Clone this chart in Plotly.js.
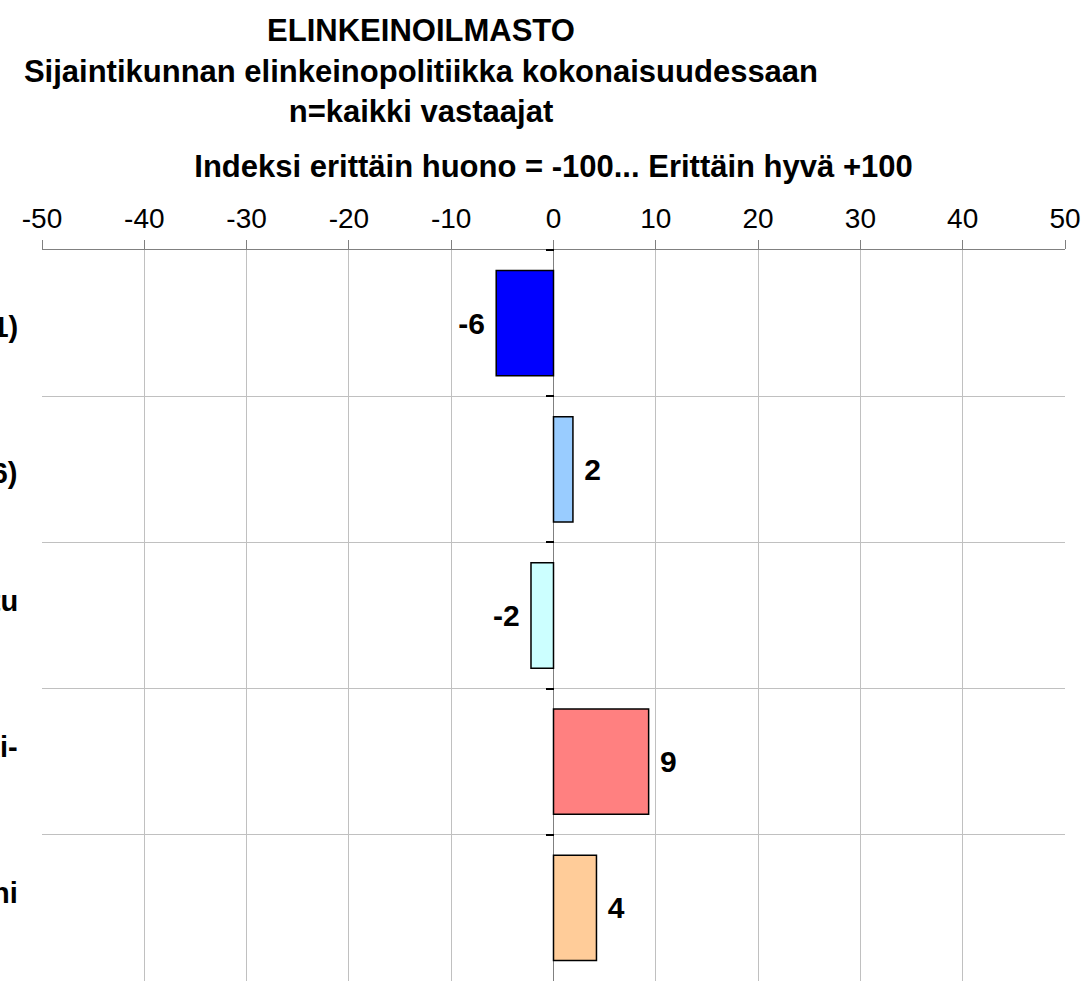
<!DOCTYPE html>
<html>
<head>
<meta charset="utf-8">
<script src="https://cdn.plot.ly/plotly-3.0.1.min.js"></script>
<style>html,body{margin:0;padding:0;background:#fff;}#chart{width:1085px;height:981px;}</style>
</head>
<body>
<div id="chart"></div>
<script>
// Categories (top to bottom); labels are cut off at the left edge in the reference
var categories = [
  "Kaikki vastaajat (n=2251)",
  "Yrittäjät (n=1296)",
  "Kunnanvaltuutettu<br>(n=512)",
  "Muu luottamushenki-<br>lö (n=298)",
  "Elinkeinotoimi kunnassani<br>(n=145)"
];
var values = [-5.6, 1.9, -2.2, 9.3, 4.2];
var barColors = ["#0000FF", "#99CCFF", "#CCFFFF", "#FF8080", "#FFCC99"];
var xTicks = [-50, -40, -30, -20, -10, 0, 10, 20, 30, 40, 50];

var titleText = "ELINKEINOILMASTO<br>Sijaintikunnan elinkeinopolitiikka kokonaisuudessaan<br>n=kaikki vastaajat";
var axisTitle = "Indeksi erittäin huono = -100... Erittäin hyvä +100";

var FONT = "Liberation Sans, Arial, sans-serif";

var labels = values.map(function (v) {
  var r = Math.round(v);
  return v >= 0 ? " " + r : r + " ";
});

var traces = [
  {
    type: "bar",
    orientation: "h",
    x: values,
    y: categories,
    marker: { color: barColors, line: { color: "#000000", width: 1.5 } },
    text: labels,
    textposition: "outside",
    textfont: { family: FONT, size: 30, color: "#000", weight: "bold" },
    cliponaxis: false,
    hoverinfo: "x+y"
  },
  {
    type: "bar",
    orientation: "h",
    x: values,
    y: categories,
    yaxis: "y2",
    marker: { color: "rgba(0,0,0,0)" },
    hoverinfo: "skip",
    showlegend: false
  }
];

var annotations = categories.map(function (c) {
  return {
    xref: "paper", x: 0, xshift: -22, xanchor: "right",
    yref: "y", y: c, yshift: -4,
    text: c, showarrow: false, align: "center",
    font: { family: FONT, size: 29, color: "#000", weight: "bold" }
  };
});

var layout = {
  width: 1085,
  height: 981,
  margin: { l: 42, r: 20, t: 250, b: 0 },
  paper_bgcolor: "#ffffff",
  plot_bgcolor: "#ffffff",
  showlegend: false,
  barmode: "overlay",
  bargap: 0.28,
  title: {
    text: titleText,
    font: { family: FONT, size: 31, color: "#000", weight: "bold" },
    xref: "container", x: 0.388, xanchor: "center",
    yref: "container", y: 0.958, yanchor: "top"
  },
  xaxis: {
    side: "top",
    range: [-50, 50],
    tickvals: xTicks,
    ticktext: xTicks.map(String),
    ticks: "outside",
    ticklen: 9,
    tickcolor: "#808080",
    tickwidth: 1,
    showline: true,
    linecolor: "#808080",
    linewidth: 1.5,
    showgrid: true,
    gridcolor: "#c0c0c0",
    gridwidth: 1,
    zeroline: true,
    zerolinecolor: "#808080",
    zerolinewidth: 1.5,
    tickfont: { family: FONT, size: 28, color: "#000" },
    title: {
      text: axisTitle,
      font: { family: FONT, size: 31, color: "#000", weight: "bold" },
      standoff: 16
    },
    fixedrange: true
  },
  yaxis: {
    type: "category",
    autorange: "reversed",
    tickson: "boundaries",
    showgrid: true,
    gridcolor: "#c0c0c0",
    gridwidth: 1,
    ticks: "",
    showticklabels: false,
    showline: false,
    zeroline: false,
    fixedrange: true
  },
  yaxis2: {
    type: "category",
    overlaying: "y",
    matches: "y",
    anchor: "free",
    position: 0.5,
    side: "left",
    tickson: "boundaries",
    ticks: "outside",
    ticklen: 8,
    tickcolor: "#000000",
    tickwidth: 2,
    showgrid: false,
    showticklabels: false,
    showline: false,
    zeroline: false,
    fixedrange: true
  },
  annotations: annotations
};

Plotly.newPlot("chart", traces, layout, { displayModeBar: false, staticPlot: true });
</script>
</body>
</html>
